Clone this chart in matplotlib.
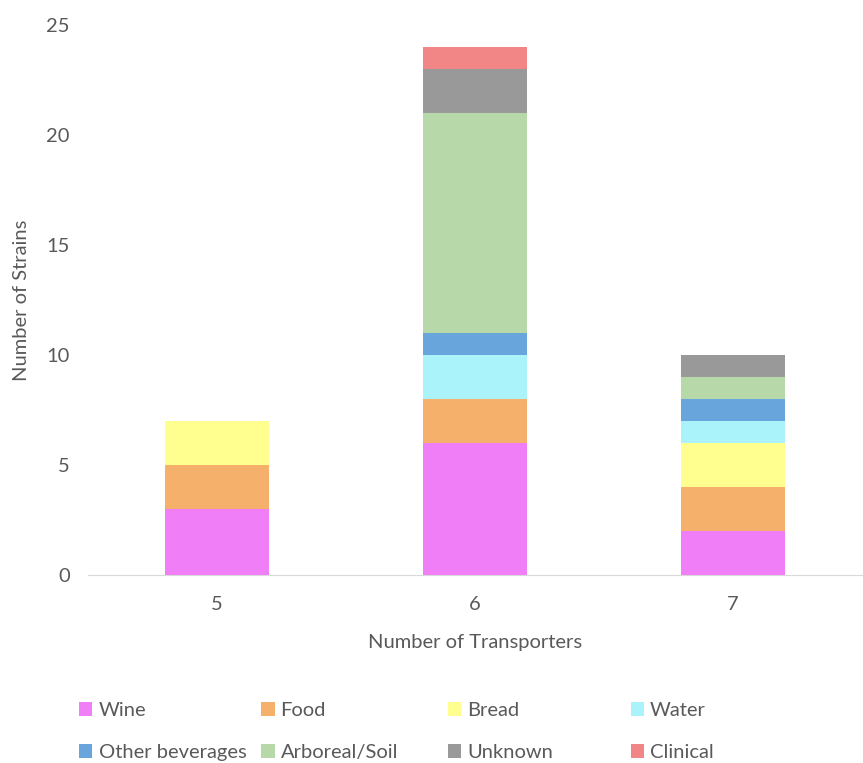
import matplotlib
matplotlib.use("Agg")
import matplotlib.pyplot as plt
import numpy as np

plt.rcParams['font.family'] = ['Lato', 'DejaVu Sans']

# data
transporters = [5, 6, 7]
sources = ["Wine", "Food", "Bread", "Water", "Other beverages",
           "Arboreal/Soil", "Unknown", "Clinical"]
wine = [3, 6, 2]
food = [2, 2, 2]
bread = [2, 0, 2]
water = [0, 2, 1]
other_bev = [0, 1, 1]
arboreal = [0, 10, 1]
unknown = [0, 2, 1]
clinical = [0, 1, 0]
series = [wine, food, bread, water, other_bev, arboreal, unknown, clinical]
colors = ["#F07EF7", "#F5B06C", "#FFFF8F", "#AAF3FA", "#68A5DC",
          "#B7D8A8", "#999999", "#F28585"]
yticks = [0, 5, 10, 15, 20, 25]

txt = "#595959"
fs = 14.5

fig = plt.figure(figsize=(8.63, 7.63), dpi=100)
ax = fig.add_axes([0.102, 0.2464, 0.897, 0.7206])

bottom = np.zeros(len(transporters))
bars = []
for vals, col, name in zip(series, colors, sources):
    b = ax.bar(transporters, vals, width=0.405, bottom=bottom, color=col,
               label=name, linewidth=0)
    bars.append(b)
    bottom += np.array(vals)

ax.set_xlim(4.5, 7.5)
ax.set_ylim(0, 25)
ax.set_xticks(transporters)
ax.set_yticks(yticks)
for s in ["top", "right", "left"]:
    ax.spines[s].set_visible(False)
ax.spines["bottom"].set_color("#D9D9D9")
ax.tick_params(axis="both", length=0, labelsize=fs, labelcolor=txt)
ax.tick_params(axis="y", pad=13)
ax.tick_params(axis="x", pad=15)
ax.set_xlabel("Number of Transporters", fontsize=fs, color=txt, labelpad=15)
ax.set_ylabel("Number of Strains", fontsize=fs, color=txt, labelpad=12)

# legend: 4 columns, row-major order like the original
col_x = [0.092, 0.303, 0.519, 0.731]
for j in range(4):
    hs = [bars[j], bars[j + 4]]
    ls = [sources[j], sources[j + 4]]
    fig.legend(hs, ls, loc="upper left", bbox_to_anchor=(col_x[j], 0.08),
               frameon=False, fontsize=fs, labelcolor=txt, handlelength=0.65,
               handleheight=0.65, handletextpad=0.3, labelspacing=1.25,
               borderaxespad=0, borderpad=0)

fig.savefig("out.png", dpi=100)
